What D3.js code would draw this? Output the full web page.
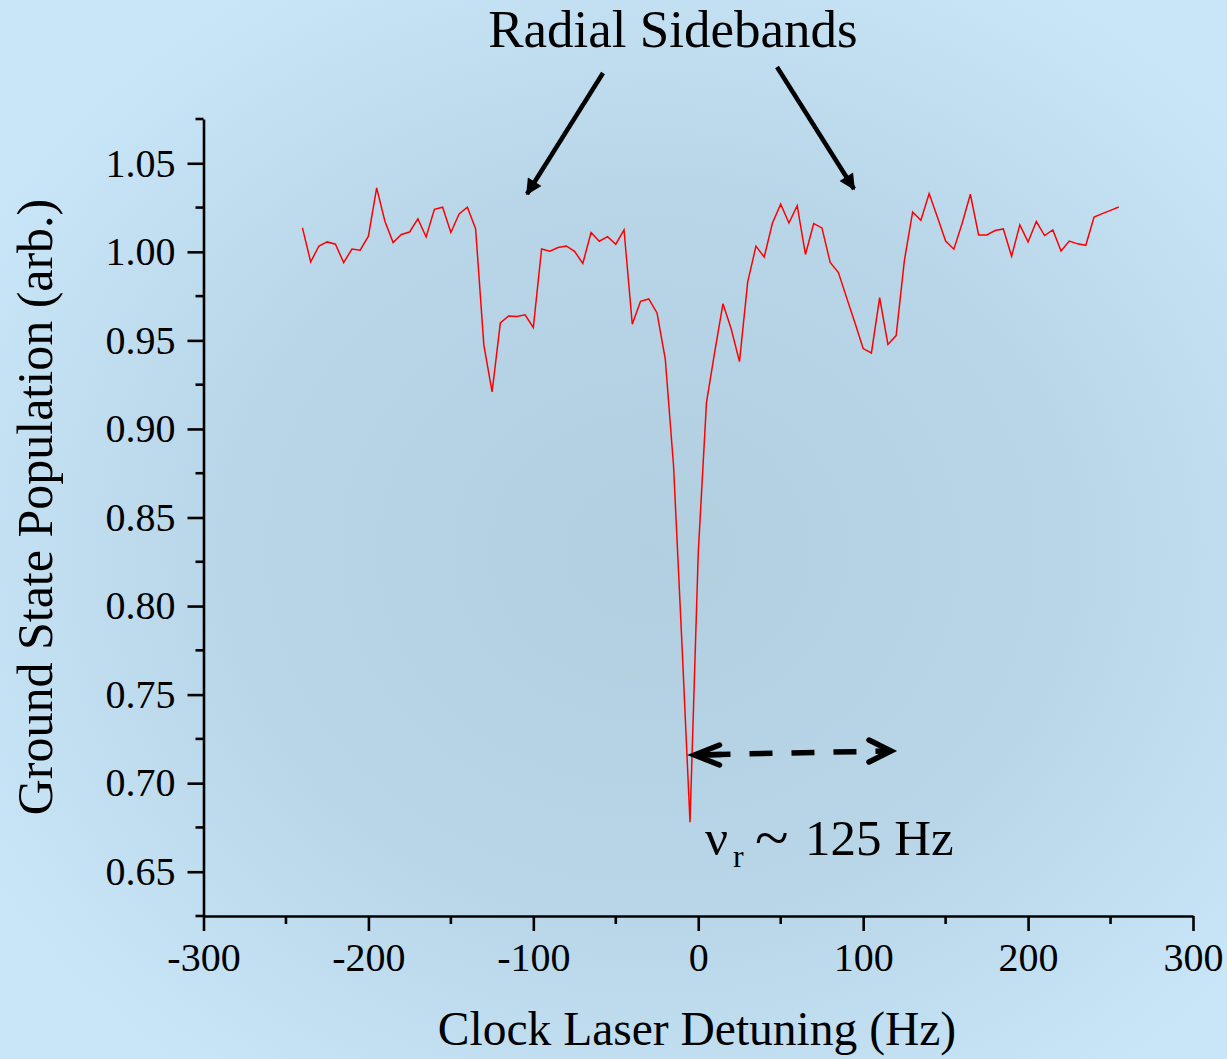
<!DOCTYPE html>
<html>
<head>
<meta charset="utf-8">
<script src="https://cdn.jsdelivr.net/npm/d3@7"></script>
<style>
html,body{margin:0;padding:0;background:#c6e4f6;}
svg{display:block;}
text{font-family:"Liberation Serif","Times New Roman",serif;fill:#000;}
</style>
</head>
<body>
<svg id="chart" width="1227" height="1059"></svg>
<script>
// ---- data ----
const detuning = [-240,-235,-230,-225,-220,-215,-210,-205,-200,-195,-190,-185,-180,-175,-170,-165,-160,-155,-150,-145,
  -140,-135,-130,-125,-120,-115,-110,-105,-100,-95,-90,-85,-80,-75,-70,-65,-60,-55,-50,-45,
  -40,-35,-30,-25,-20,-15,-10,-5,0,5,10,15,20,25,30,35,40,45,50,55,
  60,65,70,75,80,85,90,95,100,105,110,115,120,125,130,135,140,145,150,155,
  160,165,170,175,180,185,190,195,200,205,210,215,220,225,230,235,240,245,250,255];
const population = [1.0135,0.9943,1.0033,1.0056,1.0043,0.9939,1.0016,1.0009,1.0088,1.0361,1.0173,1.0052,1.0098,1.0112,1.0186,1.0084,1.0240,1.0252,1.0109,1.0214,
  1.0252,1.0131,0.9473,0.9209,0.9599,0.9638,0.9635,0.9644,0.9573,1.0016,1.0003,1.0024,1.0033,1.0003,0.9934,1.0109,1.0060,1.0086,1.0043,1.0124,
  0.9591,0.9721,0.9734,0.9655,0.9396,0.8795,0.7810,0.6780,0.8300,0.9150,0.9435,0.9707,0.9564,0.9380,0.9830,1.0032,0.9971,1.0163,1.0269,1.0163,
  1.0261,0.9985,1.0160,1.0135,0.9940,0.9883,0.9740,0.9600,0.9454,0.9429,0.9742,0.9477,0.9527,0.9952,1.0225,1.0178,1.0329,1.0197,1.0061,1.0015,
  1.0160,1.0325,1.0095,1.0095,1.0120,1.0129,0.9975,1.0152,1.0056,1.0171,1.0092,1.0124,1.0005,1.0061,1.0045,1.0037,1.0197,1.0216,1.0234,1.0253];
const xTicks = [-300,-200,-100,0,100,200,300];
const xTickLabels = ["-300","-200","-100","0","100","200","300"];
const yTicks = [0.65,0.70,0.75,0.80,0.85,0.90,0.95,1.00,1.05];
const yTickLabels = ["0.65","0.70","0.75","0.80","0.85","0.90","0.95","1.00","1.05"];
const xMinor = [-250,-150,-50,50,150,250];
const yMinor = [0.625,0.675,0.725,0.775,0.825,0.875,0.925,0.975,1.025,1.075];
const titleText = "Radial Sidebands";
const xTitle = "Clock Laser Detuning (Hz)";
const yTitle = "Ground State Population (arb.)";

// ---- layout ----
const svg = d3.select("#chart");
const W = 1227, H = 1059;
const x = d3.scaleLinear().domain([-300,300]).range([203.5,1193]);
const y = d3.scaleLinear().domain([0.625,1.075]).range([916,119]);

// background
const defs = svg.append("defs");
const rg = defs.append("radialGradient").attr("id","bg")
  .attr("cx","0.53").attr("cy","0.52").attr("r","0.62")
  .attr("fx","0.53").attr("fy","0.52");
rg.append("stop").attr("offset","0").attr("stop-color","#b2cfe0");
rg.append("stop").attr("offset","0.55").attr("stop-color","#b8d6e8");
rg.append("stop").attr("offset","1").attr("stop-color","#c8e6f8");
svg.append("rect").attr("width",W).attr("height",H).attr("fill","url(#bg)");

defs.append("marker").attr("id","ah").attr("viewBox","0 0 10 10")
  .attr("refX",9).attr("refY",5).attr("markerWidth",18).attr("markerHeight",16)
  .attr("markerUnits","userSpaceOnUse").attr("orient","auto")
  .append("path").attr("d","M0,0 L10,5 L0,10 Z").attr("fill","#000");

// axes
const axisW = 2.6;
const xAxis = d3.axisBottom(x).tickValues(xTicks).tickFormat((d,i)=>xTickLabels[i]).tickSize(15).tickSizeOuter(0).tickPadding(12);
const gx = svg.append("g").attr("transform",`translate(0,${y(0.625)})`).call(xAxis);
gx.selectAll("line").attr("stroke","#000").attr("stroke-width",axisW);
gx.select(".domain").attr("stroke","#000").attr("stroke-width",axisW);
gx.selectAll("text").attr("font-size",40).attr("font-family","Liberation Serif");
gx.selectAll(".minor").data(xMinor).enter().append("line")
  .attr("x1",d=>x(d)).attr("x2",d=>x(d)).attr("y1",0).attr("y2",8)
  .attr("stroke","#000").attr("stroke-width",axisW);

const yAxis = d3.axisLeft(y).tickValues(yTicks).tickFormat((d,i)=>yTickLabels[i]).tickSize(16).tickSizeOuter(0).tickPadding(12);
const gy = svg.append("g").attr("transform",`translate(${x(-300)},0)`).call(yAxis);
gy.selectAll("line").attr("stroke","#000").attr("stroke-width",axisW);
gy.select(".domain").attr("stroke","#000").attr("stroke-width",axisW);
gy.selectAll("text").attr("font-size",40).attr("font-family","Liberation Serif");
gy.selectAll(".minor").data(yMinor).enter().append("line")
  .attr("x1",0).attr("x2",-8).attr("y1",d=>y(d)).attr("y2",d=>y(d))
  .attr("stroke","#000").attr("stroke-width",axisW);

// data line
const line = d3.line().x((d,i)=>x(detuning[i])).y(d=>y(d));
svg.append("path").datum(population).attr("d",line)
  .attr("fill","none").attr("stroke","#ff0000").attr("stroke-width",1.5).attr("stroke-linejoin","miter");

// titles
svg.append("text").attr("x",673).attr("y",47).attr("text-anchor","middle")
  .attr("font-size",53).text(titleText);
svg.append("text").attr("x",697).attr("y",1045).attr("text-anchor","middle")
  .attr("font-size",47.5).text(xTitle);
svg.append("text").attr("transform","translate(52,507) rotate(-90)").attr("text-anchor","middle")
  .attr("font-size",50).text(yTitle);

// sideband arrows
svg.append("line").attr("x1",603).attr("y1",73).attr("x2",527).attr("y2",194)
  .attr("stroke","#000").attr("stroke-width",4.5).attr("marker-end","url(#ah)");
svg.append("line").attr("x1",777).attr("y1",67).attr("x2",854).attr("y2",189)
  .attr("stroke","#000").attr("stroke-width",4.5).attr("marker-end","url(#ah)");

// double dashed arrow
const ax1 = 694.5, ay1 = 755, ax2 = 891, ay2 = 751;
svg.append("line").attr("x1",ax1+4).attr("y1",ay1-0.1).attr("x2",ax2-4).attr("y2",ay2)
  .attr("stroke","#000").attr("stroke-width",5.5).attr("stroke-dasharray","23,19").attr("stroke-dashoffset",-9);
svg.append("polyline").attr("points",`${ax1+25},${ay1-10} ${ax1},${ay1} ${ax1+25},${ay1+10}`)
  .attr("fill","none").attr("stroke","#000").attr("stroke-width",5.5).attr("stroke-linecap","round").attr("stroke-linejoin","miter");
svg.append("line").attr("x1",ax1+3).attr("y1",ay1).attr("x2",ax1+27).attr("y2",ay1-0.5)
  .attr("stroke","#000").attr("stroke-width",5.5);
svg.append("polyline").attr("points",`${ax2-22},${ay2-11} ${ax2},${ay2} ${ax2-22},${ay2+11}`)
  .attr("fill","none").attr("stroke","#000").attr("stroke-width",5.5).attr("stroke-linecap","round").attr("stroke-linejoin","miter");

// nu_r label
svg.append("text").attr("x",705).attr("y",855).attr("font-size",51).text("ν");
svg.append("text").attr("x",733).attr("y",867).attr("font-size",32).text("r");
svg.append("text").attr("x",755).attr("y",858).attr("font-size",62).text("~");
svg.append("text").attr("x",805).attr("y",855).attr("font-size",51).text("125 Hz");
</script>
</body>
</html>
